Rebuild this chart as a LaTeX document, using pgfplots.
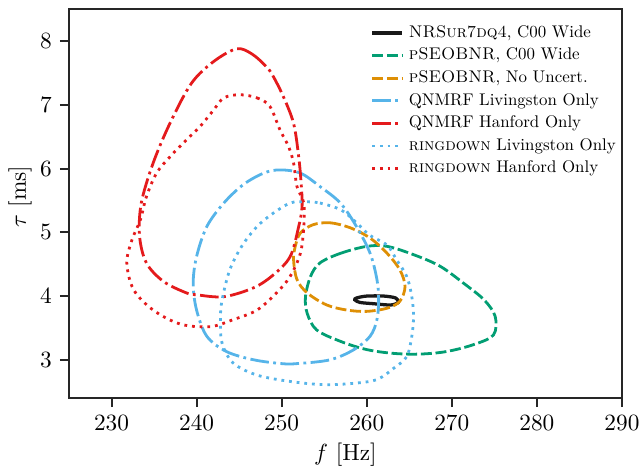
\documentclass[border=0pt]{standalone}
\usepackage{graphicx}
\usepackage{pgfplots}
\pgfplotsset{compat=1.18}
\definecolor{cgreen}{RGB}{2,158,115}
\definecolor{corange}{RGB}{222,143,5}
\definecolor{cblue}{RGB}{86,180,233}
\definecolor{cred}{RGB}{228,26,28}
\definecolor{axgray}{RGB}{38,38,38}
\newcommand{\legtxt}[1]{\scalebox{0.725}{#1}}
\tikzset{
  mpldashed/.style={line width=1.2pt, dash pattern=on 4.7pt off 1.6pt},
  mpldashdot/.style={line width=1.2pt, dash pattern=on 8pt off 1.9pt on 1.2pt off 1.9pt},
  mpldotted/.style={line width=1.2pt, dash pattern=on 1.2pt off 2.1pt},
}
\begin{document}
\begin{tikzpicture}
\begin{axis}[
  scale only axis,
  width=237.3pt, height=166.8pt,
  xmin=225, xmax=290, ymin=2.4, ymax=8.5,
  xtick={230,240,250,260,270,280,290},
  ytick={3,4,5,6,7,8},
  tick align=outside,
  xtick pos=bottom, ytick pos=left,
  major tick length=3.9pt,
  axis line style={axgray, line width=0.85pt},
  every tick/.style={axgray, line width=0.85pt},
  tick label style={font=\normalsize},
  xlabel={$f$ [Hz]},
  ylabel={$\tau$ [ms]},
  xlabel style={at={(axis description cs:0.5,-0.1595)}, anchor=base},
  ylabel style={at={(axis description cs:-0.0778,0.518)}, anchor=base},
  legend style={draw=none, fill=none, at={(axis description cs:0.532,0.973)}, anchor=north west,
    font=\normalsize, row sep=2.8pt,
    nodes={inner xsep=2.2pt, inner ysep=0pt, text height=5.3pt, text depth=1.6pt}},
  legend cell align=left,
  legend image code/.code={\draw[#1] (0pt,0pt) -- (12.8pt,0pt);},
]
% NRSur7dq4
\addplot[black!90, line width=1.4pt, smooth cycle] coordinates {
(258.8,3.97)(260.0,4.00)(262.0,4.00)(263.4,3.97)(263.7,3.90)(262.8,3.86)(260.8,3.88)(259.2,3.90)(258.6,3.94)};
\addlegendentry{\legtxt{\textsc{NRSur7dq4}, C00 Wide}}
% pSEOBNR C00 Wide
\addplot[cgreen, mpldashed, smooth cycle, tension=0.55] coordinates {
(254.5,4.52)(256.9,4.67)(260.0,4.78)(262.4,4.78)(265.5,4.65)(268.6,4.47)(271.4,4.20)(273.8,3.94)(275.1,3.68)(274.9,3.39)(272.6,3.24)(269.4,3.13)(266.3,3.09)(263.2,3.10)(260.0,3.16)(256.9,3.29)(254.1,3.47)(253.0,3.73)(252.8,3.99)(253.4,4.31)};
\addlegendentry{\legtxt{\textsc{pSEOBNR}, C00 Wide}}
% pSEOBNR no uncert
\addplot[corange, mpldashed, smooth cycle, tension=0.55] coordinates {
(253.7,5.12)(255.7,5.15)(258.1,5.07)(260.4,4.91)(262.4,4.67)(263.9,4.41)(264.5,4.15)(263.9,3.92)(262.4,3.81)(260.0,3.76)(257.7,3.78)(255.3,3.86)(253.0,4.05)(251.8,4.26)(251.4,4.57)(251.6,4.78)(252.2,4.99)};
\addlegendentry{\legtxt{\textsc{pSEOBNR}, No Uncert.}}
% QNMRF Livingston
\addplot[cblue, mpldashdot, smooth cycle, tension=0.55] coordinates {
(249.8,5.98)(252.2,5.93)(254.5,5.72)(256.9,5.46)(258.8,5.09)(260.4,4.67)(261.2,4.26)(261.4,3.95)(261.2,3.63)(260.4,3.37)(258.5,3.16)(255.7,3.00)(251.8,2.94)(250.0,2.94)(246.7,3.00)(243.5,3.13)(241.2,3.37)(240.0,3.78)(239.6,4.20)(240.0,4.62)(241.2,5.09)(243.2,5.46)(245.5,5.75)(247.9,5.93)};
\addlegendentry{\legtxt{QNMRF Livingston Only}}
% QNMRF Hanford
\addplot[cred, mpldashdot, smooth cycle, tension=0.55] coordinates {
(244.7,7.88)(246.5,7.80)(248.2,7.60)(249.0,7.45)(250.2,7.13)(251.4,6.71)(252.0,6.19)(252.3,5.75)(252.4,5.40)(252.0,5.09)(251.0,4.62)(249.0,4.33)(246.7,4.13)(243.2,3.99)(240.0,4.02)(238.8,4.05)(236.1,4.23)(234.1,4.52)(233.3,4.94)(233.5,5.46)(234.9,6.09)(236.9,6.72)(239.4,7.34)(242.0,7.68)};
\addlegendentry{\legtxt{QNMRF Hanford Only}}
% ringdown Livingston
\addplot[cblue, mpldotted, smooth cycle, tension=0.55] coordinates {
(252.6,5.48)(254.5,5.46)(257.0,5.35)(258.8,5.15)(260.4,4.95)(262.4,4.80)(263.5,4.57)(264.7,4.31)(265.3,3.99)(265.5,3.68)(265.3,3.37)(264.7,3.05)(263.2,2.87)(261.2,2.69)(258.4,2.63)(254.9,2.61)(251.0,2.66)(247.1,2.76)(244.3,2.95)(243.0,3.26)(242.8,3.63)(243.0,3.94)(243.9,4.41)(245.3,4.78)(247.1,5.09)(249.0,5.30)(251.0,5.46)};
\addlegendentry{\legtxt{\textsc{ringdown} Livingston Only}}
% ringdown Hanford
\addplot[cred, mpldotted, smooth cycle, tension=0.55] coordinates {
(245.1,7.16)(247.1,7.11)(248.6,6.98)(249.8,6.61)(250.8,6.35)(251.4,6.09)(251.8,5.72)(252.6,5.46)(252.6,5.09)(252.2,4.67)(251.0,4.31)(249.4,4.05)(247.1,3.78)(244.3,3.63)(241.6,3.52)(238.1,3.56)(234.9,3.78)(232.6,4.10)(231.8,4.52)(232.4,4.88)(233.4,5.20)(234.1,5.56)(235.3,5.93)(236.9,6.19)(238.8,6.45)(240.4,6.66)(242.0,6.92)(243.2,7.11)};
\addlegendentry{\legtxt{\textsc{ringdown} Hanford Only}}
\end{axis}
\pgfresetboundingbox
\useasboundingbox (-29.6pt,-30.2pt) rectangle (245.9pt,170.8pt);
\end{tikzpicture}
\end{document}
